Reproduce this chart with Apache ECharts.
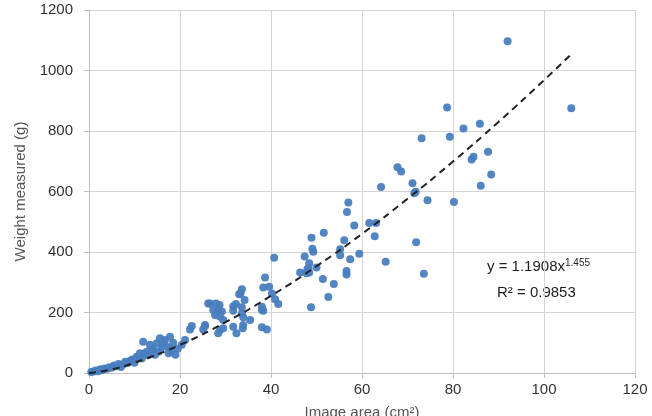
<!DOCTYPE html>
<html>
<head>
<meta charset="utf-8">
<script src="https://cdn.jsdelivr.net/npm/echarts@6/dist/echarts.min.js"></script>
<style>html,body{margin:0;padding:0;background:#fff}#c{width:652px;height:416px}</style>
</head>
<body>
<div id="c"></div>
<script>
// Measured samples: [image area (cm²), weight (g)]
var samples = [
[0.5,3],[1,5],[1.5,8],[2,6],[2.5,12],[3,10],[3.5,15],[4,14],[4.5,19],[5,17],[5.5,25],[6,22],[6.5,30],[7,20],[7.5,28],[8,37],[8.5,33],[9,40],[9.5,45],[10,34],[10.5,54],[10.8,50],[11.2,65],[11.6,48],[11.9,103],[12.3,65],[12.7,70],[13,59],[13.4,93],[13.8,75],[14.1,82],[14.5,60],[14.9,98],[15.3,70],[15.6,115],[16,85],[16.3,98],[16.7,109],[17.1,87],[17.5,65],[17.8,120],[17.8,82],[18.2,70],[18.5,100],[19,60],[19.5,80],[20.4,93],[21.1,109],
[22.2,144],[22.6,155],[25.1,144],[25.5,155],[25.5,159],[26.2,230],[26.6,230],[27.3,208],[27.7,192],[27.9,230],[28.4,208],[28.4,131],[28.7,225],[28.8,186],[28.8,142],[29.2,203],[29.5,175],[29.5,148],[31.7,206],[31.7,221],[31.7,153],[32.3,228],[32.4,131],[33.0,260],[33.3,263],[33.6,277],[33.6,217],[33.6,197],[33.8,148],[33.9,184],[33.9,159],[34.2,241],[35.4,175],[38.0,219],[38.0,208],[38.0,151],[38.3,206],[39.1,144],[38.7,316],[38.3,283],[39.6,285],[40.2,263],[40.9,244],[41.6,228],[40.7,381],
[46.4,332],[47.4,385],[47.8,330],[48.0,343],[48.4,363],[48.2,346],[48.4,332],[48.8,217],[48.9,447],[49.1,411],[49.3,401],[50.0,349],[51.4,311],[51.6,464],[52.6,251],[53.8,294],[55.2,409],[55.2,389],[56.1,439],[56.6,337],[56.6,326],[56.7,532],[57.0,564],[57.4,376],[58.3,488],[59.4,394],[61.6,496],[62.8,452],[63.1,496],[64.2,615],[65.2,368],[67.8,680],[68.6,666],[71.1,627],[71.5,594],[71.8,599],[71.9,432],[73.1,776],[73.6,328],[74.4,571],[78.7,878],[79.3,781],[80.2,565],[82.3,808],[84.1,706],[84.5,715],[85.9,824],[86.1,619],[87.7,731],[88.4,656],[92.0,1097],[106,875]
];
// Power trendline values
var trendX = [0, 5, 10, 20, 30, 40, 50, 60, 70, 80, 90, 100, 106];
var trendY = [0, 12, 34, 93, 168, 255, 353, 460, 576, 699, 830, 968, 1054];
var xTicks = [0, 20, 40, 60, 80, 100, 120];
var yTicks = [0, 200, 400, 600, 800, 1000, 1200];
var xName = 'Image area (cm²)';
var yName = 'Weight measured (g)';
var eqMain = '1.1908x';
var eqExp = '1.455';
var r2Text = 'R² = 0.9853';

var trend = trendX.map(function(x, i){ return [x, trendY[i]]; });
var chart = echarts.init(document.getElementById('c'));
var font = '"Liberation Sans", Arial, sans-serif';
chart.setOption({
  animation: false,
  grid: {left: 89, right: 17, top: 10, bottom: 43, containLabel: false, outerBoundsMode: 'none'},
  xAxis: {
    type: 'value', min: xTicks[0], max: xTicks[xTicks.length-1], interval: 20,
    name: xName, nameLocation: 'middle', nameGap: 32,
    nameTextStyle: {fontFamily: font, fontSize: 15, color: '#555'},
    axisLine: {show: true, lineStyle: {color: '#bfbfbf'}},
    axisTick: {show: true, length: 5, lineStyle: {color: '#bfbfbf'}},
    axisLabel: {fontFamily: font, fontSize: 15, color: '#333', margin: 9,
                formatter: function(v){ return String(v); }},
    splitLine: {show: true, lineStyle: {color: '#d4d4d4'}}
  },
  yAxis: {
    type: 'value', min: yTicks[0], max: yTicks[yTicks.length-1], interval: 200,
    name: yName, nameLocation: 'middle', nameGap: 60, nameRotate: 90,
    nameTextStyle: {fontFamily: font, fontSize: 15, color: '#555'},
    axisLine: {show: true, lineStyle: {color: '#bfbfbf'}},
    axisTick: {show: true, length: 5, lineStyle: {color: '#bfbfbf'}},
    axisLabel: {fontFamily: font, fontSize: 15, color: '#333', margin: 16,
                formatter: function(v){ return String(v); }},
    splitLine: {show: true, lineStyle: {color: '#d4d4d4'}}
  },
  series: [
    {type: 'scatter', data: samples, symbolSize: 8,
     itemStyle: {color: '#4a7ebf', opacity: 0.95}},
    {type: 'line', data: trend, smooth: true, showSymbol: false, z: 5,
     lineStyle: {color: '#222', width: 2, type: [7, 5]}}
  ],
  graphic: [
    {type: 'text', left: 487, top: 258, style: {
      rich: {
        m: {fontFamily: font, fontSize: 15, fill: '#222'},
        s: {fontFamily: font, fontSize: 10, fill: '#222', verticalAlign: 'top', padding: [0,0,8,0]}
      },
      text: '{m|y = ' + eqMain + '}{s|' + eqExp + '}'
    }},
    {type: 'text', left: 497, top: 285, style: {
      text: r2Text, fontFamily: font, fontSize: 15, fill: '#222'
    }}
  ]
});
</script>
</body>
</html>
